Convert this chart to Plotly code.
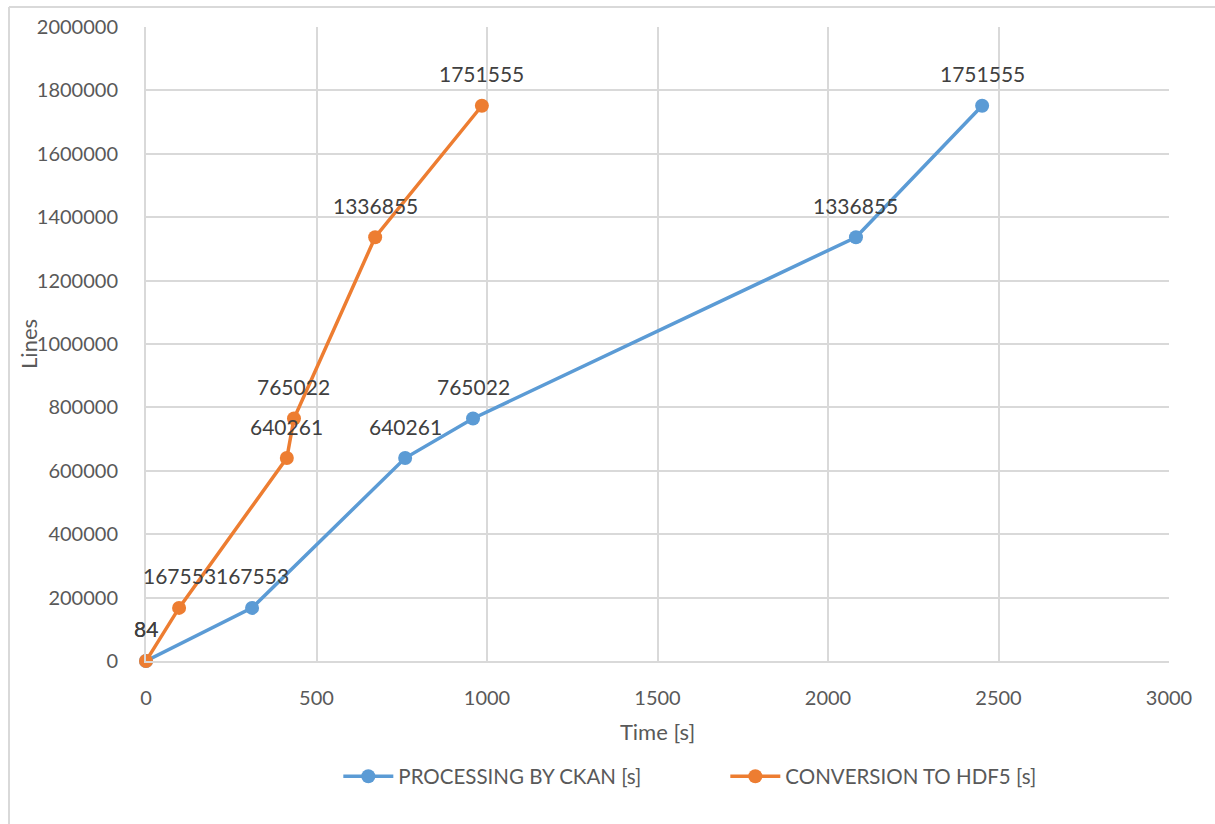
import plotly.graph_objects as go

# Lines processed vs. elapsed time for the two pipeline stages
ckan_time = [0, 311, 760, 959, 2082, 2452]
hdf5_time = [0, 97, 413, 434, 672, 985]
lines = [84, 167553, 640261, 765022, 1336855, 1751555]

series_names = ["PROCESSING BY CKAN [s]", "CONVERSION TO HDF5 [s]"]
series_colors = ["#5b9bd5", "#ed7d31"]

x_ticks = [0, 500, 1000, 1500, 2000, 2500, 3000]
y_ticks = [0, 200000, 400000, 600000, 800000, 1000000, 1200000,
           1400000, 1600000, 1800000, 2000000]

FONT = "Lato, 'Open Sans', sans-serif"

fig = go.Figure()
for name, color, xs in zip(series_names, series_colors, [ckan_time, hdf5_time]):
    fig.add_trace(go.Scatter(
        x=xs, y=lines, name=name, mode="lines+markers",
        line=dict(color=color, width=3.5),
        marker=dict(color=color, size=14),
        cliponaxis=False,
    ))

# value labels above every point
annotations = []
for xs in [ckan_time, hdf5_time]:
    for xv, yv in zip(xs, lines):
        annotations.append(dict(
            x=xv, y=yv, xref="x", yref="y", text=str(yv), showarrow=False,
            yshift=32, font=dict(family=FONT, size=21, color="#404040"),
        ))

annotations.append(dict(
    x=-0.1154, y=0.5, xref="paper", yref="paper", text="Lines",
    textangle=-90, showarrow=False, xanchor="center", yanchor="middle",
    font=dict(family=FONT, size=22, color="#595959"),
))

fig.update_layout(
    width=1215, height=824,
    margin=dict(l=146, r=46, t=27, b=163),
    paper_bgcolor="white", plot_bgcolor="white",
    font=dict(family=FONT, size=20, color="#595959"),
    showlegend=True,
    legend=dict(orientation="h", x=0.188, xanchor="left", y=-0.182, yanchor="middle",
                font=dict(family=FONT, size=20.5, color="#595959"),
                itemwidth=50, tracegroupgap=0, entrywidthmode="pixels", entrywidth=322),
    annotations=annotations,
    shapes=[
        dict(type="line", xref="paper", yref="paper", x0=-0.1339, x1=1.05,
             y0=1.0315, y1=1.0315, line=dict(color="#d9d9d9", width=2)),
        dict(type="line", xref="paper", yref="paper", x0=-0.1339, x1=-0.1339,
             y0=-0.3, y1=1.0315, line=dict(color="#d9d9d9", width=2)),
    ],
)

fig.update_xaxes(
    range=[0, 3000], tickvals=x_ticks, ticktext=[str(v) for v in x_ticks],
    showgrid=True, gridcolor="#d9d9d9", gridwidth=2,
    showline=True, linecolor="#d9d9d9", linewidth=2, mirror=False,
    zeroline=False, ticks="", ticklabelstandoff=18,
    title=dict(text="Time [s]", standoff=17, font=dict(family=FONT, size=22, color="#595959")),
    tickfont=dict(family=FONT, size=20, color="#595959"),
)
fig.update_yaxes(
    range=[0, 2000000], tickvals=y_ticks, ticktext=[str(v) for v in y_ticks],
    showgrid=True, gridcolor="#d9d9d9", gridwidth=2,
    showline=True, linecolor="#d9d9d9", linewidth=2,
    zeroline=False, ticks="", ticklabelstandoff=22,
    tickfont=dict(family=FONT, size=20, color="#595959"),
)

fig.write_html("out.html")
